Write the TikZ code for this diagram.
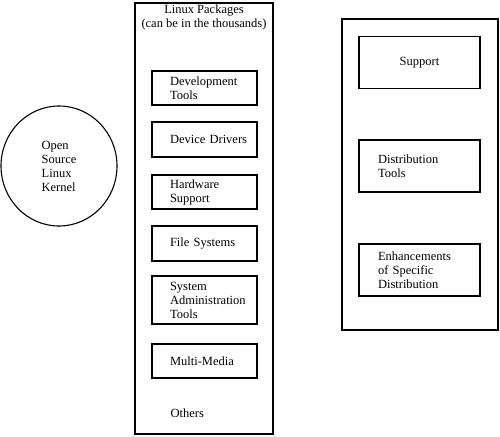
\documentclass[tikz,border=0pt]{standalone}
\usepackage{fontspec}
\setmainfont{Liberation Serif}
\usetikzlibrary{positioning,shapes.geometric}
\hyphenpenalty=10000

\begin{document}
\begin{tikzpicture}[x=1pt,y=-1pt,line width=1.1pt,
  txt/.style={font=\fontsize{12.5}{14}\selectfont},
  pkgbox/.style={draw,txt,minimum width=105pt,text width=69pt,inner xsep=18pt,inner ysep=0pt,align=left},
  distbox/.style={draw,txt,minimum width=121pt,minimum height=52pt,text width=83pt,inner xsep=19pt,inner ysep=0pt,align=left}]
\useasboundingbox (0,0) rectangle (500,436);
% kernel
\node[draw,ellipse,txt,align=left,minimum width=116pt,minimum height=120pt,inner sep=0pt] (kernel) at (59,166) {Open\\Source\\Linux\\Kernel};
% linux packages
\node[draw,minimum width=138pt,minimum height=431pt] (pkgs) at (204,218.5) {};
\node[txt,align=center] (pkghead) at (204,17.5) {Linux Packages\\(can be in the thousands)};
\foreach \name/\y/\h/\lbl in {dev/88/34/{Development\\Tools}, drv/139.5/35/{\mbox{Device Drivers}},
    hw/192/34/{Hardware\\Support}, fs/243.5/35/{\mbox{File Systems}},
    sysadm/300/48/{System\\Administration\\Tools}, media/361/34/{Multi-Media}}{
  \node[pkgbox,minimum height=\h pt] (\name) at (204.5,\y) {\lbl};
}
\node[txt,anchor=west,inner sep=0pt] (others) at (170,413) {Others};
% distribution
\node[draw,minimum width=156pt,minimum height=311pt] (distro) at (420,174.5) {};
\node[distbox,align=center] (sup) at (419.5,62.5) {Support};
\node[distbox] (tools) at (419.5,166) {Distribution\\Tools};
\node[distbox] (enh) at (419.5,270) {Enhancements\\of Specific\\Distribution};
\end{tikzpicture}
\end{document}
